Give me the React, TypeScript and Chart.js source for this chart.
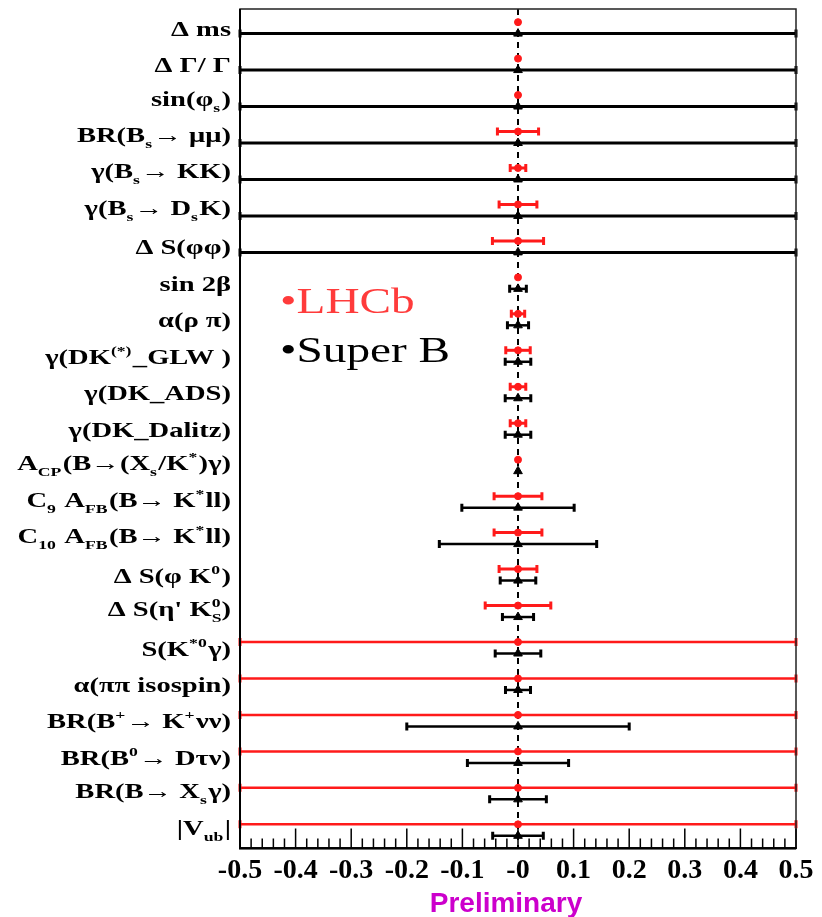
import React, { useEffect, useRef } from "react";
import { Chart, registerables } from "chart.js";

Chart.register(...registerables);

// ---------- data ----------
const categories = [
  "Δ ms",
  "Δ Γ/ Γ",
  "sin(φ_{s})",
  "BR(B_{s}→ μμ)",
  "γ(B_{s}→ KK)",
  "γ(B_{s}→ D_{s}K)",
  "Δ S(φφ)",
  "sin 2β",
  "α(ρ π)",
  "γ(DK^{(*)}_GLW )",
  "γ(DK_ADS)",
  "γ(DK_Dalitz)",
  "A_{CP}(B→(X_{s}/K^{*})γ)",
  "C_{9} A_{FB}(B→ K^{*}ll)",
  "C_{10} A_{FB}(B→ K^{*}ll)",
  "Δ S(φ K^{0})",
  "Δ S(η' K^{0}_{S})",
  "S(K^{*0}γ)",
  "α(ππ isospin)",
  "BR(B^{+}→ K^{+}νν)",
  "BR(B^{0}→ Dτν)",
  "BR(B→ X_{s}γ)",
  "|V_{ub}|",
];

const lhcbValues = [0, 0, 0, 0, 0, 0, 0, 0, 0, 0, 0, 0, 0, 0, 0, 0, 0, 0, 0, 0, 0, 0, 0];
const lhcbErrors = [
  0.002, 0.002, 0.002, 0.037, 0.014, 0.034, 0.046, 0.004, 0.012, 0.022, 0.014, 0.014,
  0.004, 0.043, 0.043, 0.034, 0.059, 0.5, 0.5, 0.5, 0.5, 0.5, 0.5,
];

const superbValues = [0, 0, 0, 0, 0, 0, 0, 0, 0, 0, 0, 0, 0, 0, 0, 0, 0, 0, 0, 0, 0, 0, 0];
const superbErrors = [
  0.5, 0.5, 0.5, 0.5, 0.5, 0.5, 0.5, 0.015, 0.019, 0.023, 0.023, 0.023, 0.002, 0.101,
  0.1415, 0.032, 0.028, 0.041, 0.0225, 0.2, 0.091, 0.051, 0.0455,
];

const xTickLabels = ["-0.5", "-0.4", "-0.3", "-0.2", "-0.1", "-0", "0.1", "0.2", "0.3", "0.4", "0.5"];

const legendLabels = ["•LHCb", "•Super B"];
const watermark = "Preliminary";

// ---------- style ----------
const RED = "#ff1a1a";
const BLACK = "#000000";
const SERIF = "'Liberation Serif', 'Times New Roman', serif";
const ROW_OFFSET = 0.315; // SuperB entry drawn slightly below the LHCb entry
const LABEL_STRETCH = 1.36;
const LEGEND_STRETCH = 1.35;

type Seg = { text: string; kind: "n" | "sub" | "sup" };

function parseRich(s: string): Seg[] {
  const segs: Seg[] = [];
  let buf = "";
  let i = 0;
  while (i < s.length) {
    const c = s[i];
    if ((c === "_" || c === "^") && s[i + 1] === "{") {
      if (buf) segs.push({ text: buf, kind: "n" });
      buf = "";
      const end = s.indexOf("}", i + 2);
      segs.push({ text: s.slice(i + 2, end), kind: c === "_" ? "sub" : "sup" });
      i = end + 1;
    } else {
      buf += c;
      i++;
    }
  }
  if (buf) segs.push({ text: buf, kind: "n" });
  return segs;
}

const MAIN_FONT = `bold 21px ${SERIF}`;
const SMALL_FONT = `bold 13px ${SERIF}`;

function drawRich(ctx: CanvasRenderingContext2D, s: string, right: number, baseline: number) {
  const segs = parseRich(s);
  const placed: { seg: Seg; x: number }[] = [];
  let x = 0;
  for (let k = 0; k < segs.length; k++) {
    const seg = segs[k];
    ctx.font = seg.kind === "n" ? MAIN_FONT : SMALL_FONT;
    const w = ctx.measureText(seg.text).width;
    const next = segs[k + 1];
    if (seg.kind === "sup" && next && next.kind === "sub") {
      ctx.font = SMALL_FONT;
      const w2 = ctx.measureText(next.text).width;
      placed.push({ seg, x });
      placed.push({ seg: next, x });
      x += Math.max(w, w2);
      k++;
      continue;
    }
    placed.push({ seg, x });
    x += w + (seg.kind === "n" ? 0 : 1);
  }
  ctx.save();
  ctx.translate(right, baseline);
  ctx.scale(LABEL_STRETCH, 1);
  ctx.textAlign = "left";
  ctx.textBaseline = "alphabetic";
  ctx.fillStyle = BLACK;
  for (const p of placed) {
    ctx.font = p.seg.kind === "n" ? MAIN_FONT : SMALL_FONT;
    const dy = p.seg.kind === "sub" ? 6 : p.seg.kind === "sup" ? -9 : 0;
    ctx.fillText(p.seg.text, p.x - x, dy);
  }
  ctx.restore();
}

const errorBarPlugin = {
  id: "errorBars",
  beforeDatasetsDraw(chart: any) {
    const ctx = chart.ctx;
    const xs = chart.scales.x;
    const area = chart.chartArea;
    ctx.save();
    // dashed zero line
    ctx.strokeStyle = BLACK;
    ctx.lineWidth = 2;
    ctx.setLineDash([6, 5]);
    const x0 = xs.getPixelForValue(0);
    ctx.beginPath();
    ctx.moveTo(x0, area.top);
    ctx.lineTo(x0, area.bottom);
    ctx.stroke();
    ctx.setLineDash([]);

    chart.data.datasets.forEach((ds: any, di: number) => {
      const meta = chart.getDatasetMeta(di);
      meta.data.forEach((el: any, i: number) => {
        const d = ds.data[i];
        const full = d.err >= 0.5;
        const xl = xs.getPixelForValue(d.x - d.err);
        const xr = xs.getPixelForValue(d.x + d.err);
        const y = el.y;
        ctx.strokeStyle = ds.borderColor;
        ctx.lineWidth = full ? ds.fullLineWidth : ds.barWidth;
        ctx.beginPath();
        ctx.moveTo(xl, y);
        ctx.lineTo(xr, y);
        ctx.stroke();
        if (xr - xl > 6) {
          ctx.lineWidth = 3;
          ctx.beginPath();
          ctx.moveTo(xl, y - 4);
          ctx.lineTo(xl, y + 4);
          ctx.moveTo(xr, y - 4);
          ctx.lineTo(xr, y + 4);
          ctx.stroke();
        }
      });
    });
    ctx.restore();
  },
};

const decorPlugin = {
  id: "decor",
  afterDraw(chart: any) {
    const ctx = chart.ctx;
    const xs = chart.scales.x;
    const ys = chart.scales.y;
    const area = chart.chartArea;
    ctx.save();
    // frame
    ctx.strokeStyle = "#222";
    ctx.lineWidth = 1.5;
    ctx.strokeRect(area.left, area.top, area.right - area.left, area.bottom - area.top);
    ctx.strokeStyle = BLACK;
    ctx.lineWidth = 2;
    ctx.beginPath();
    ctx.moveTo(area.left, area.top);
    ctx.lineTo(area.left, area.bottom);
    ctx.lineTo(area.right, area.bottom);
    ctx.stroke();
    // inward ticks
    ctx.lineWidth = 1.5;
    ctx.beginPath();
    for (let k = 0; k <= 50; k++) {
      const v = xs.min + (k * (xs.max - xs.min)) / 50;
      const px = xs.getPixelForValue(v);
      const len = k % 5 === 0 ? 20 : 10;
      ctx.moveTo(px, area.bottom);
      ctx.lineTo(px, area.bottom - len);
    }
    ctx.stroke();

    // row labels
    categories.forEach((label, i) => {
      const hasSub = label.includes("_{");
      const y = ys.getPixelForValue(i) + (hasSub ? 10.5 : 13.5);
      drawRich(ctx, label, area.left - 9, y);
    });

    // legend
    ctx.font = `35px ${SERIF}`;
    ctx.textAlign = "left";
    ctx.textBaseline = "alphabetic";
    const lx = area.left + 40;
    ctx.save();
    ctx.translate(lx, 313);
    ctx.scale(LEGEND_STRETCH, 1);
    ctx.fillStyle = "#ff3b3b";
    ctx.fillText(legendLabels[0], 0, 0);
    ctx.restore();
    ctx.save();
    ctx.translate(lx, 362);
    ctx.scale(LEGEND_STRETCH, 1);
    ctx.fillStyle = BLACK;
    ctx.fillText(legendLabels[1], 0, 0);
    ctx.restore();

    // watermark
    ctx.font = `bold 28px 'Liberation Sans', Arial, sans-serif`;
    ctx.fillStyle = "#cc00cc";
    ctx.textAlign = "center";
    ctx.fillText(watermark, 506, 912);
    ctx.restore();
  },
};

export default function App() {
  const ref = useRef<HTMLCanvasElement | null>(null);
  useEffect(() => {
    if (!ref.current) return;
    const chart = new Chart(ref.current, {
      type: "scatter",
      data: {
        datasets: [
          {
            label: "LHCb",
            data: categories.map((_, i) => ({ x: lhcbValues[i], y: i, err: lhcbErrors[i] })),
            borderColor: RED,
            backgroundColor: RED,
            pointStyle: "circle",
            pointRadius: 3.5,
            barWidth: 3,
            fullLineWidth: 2.5,
          } as any,
          {
            label: "Super B",
            data: categories.map((_, i) => ({ x: superbValues[i], y: i + ROW_OFFSET, err: superbErrors[i] })),
            borderColor: BLACK,
            backgroundColor: BLACK,
            pointStyle: "triangle",
            pointRadius: 5,
            barWidth: 2.5,
            fullLineWidth: 3,
          } as any,
        ],
      },
      options: {
        animation: false,
        responsive: true,
        maintainAspectRatio: false,
        layout: { padding: { left: 240, right: 26, top: 9, bottom: 23 } },
        plugins: { legend: { display: false }, tooltip: { enabled: false } },
        scales: {
          x: {
            type: "linear",
            min: -0.5,
            max: 0.5,
            grid: { display: false, drawTicks: false },
            border: { display: true, color: BLACK, width: 2 },
            ticks: {
              stepSize: 0.1,
              autoSkip: false,
              maxRotation: 0,
              padding: 6,
              color: BLACK,
              font: { family: SERIF, weight: "bold", size: 28 },
              callback: (_v: any, idx: number) => xTickLabels[idx],
            },
          },
          y: {
            type: "linear",
            display: false,
            reverse: true,
            min: -0.36,
            max: 22.66,
          },
        },
      },
      plugins: [errorBarPlugin, decorPlugin],
    });
    return () => chart.destroy();
  }, []);
  return (
    <div style={{ position: "fixed", left: 0, top: 0, width: 822, height: 917, background: "#fff" }}>
      <canvas ref={ref} />
    </div>
  );
}
